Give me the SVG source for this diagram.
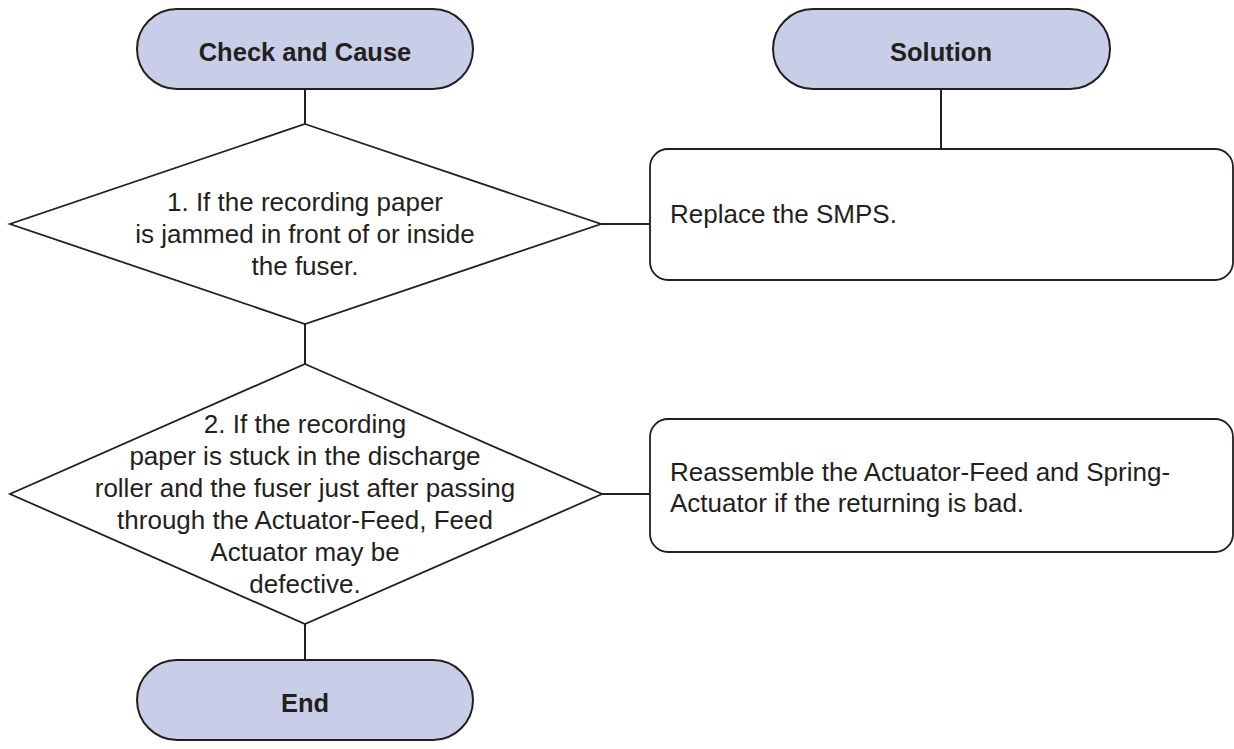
<svg xmlns="http://www.w3.org/2000/svg" width="1234" height="749" viewBox="0 0 1234 749">
<style>
.term{fill:#c9cee8;stroke:#231f20;stroke-width:2}
.shape{fill:#ffffff;stroke:#231f20;stroke-width:1.8}
.conn{stroke:#231f20;stroke-width:2;fill:none}
.t{font-family:"Liberation Sans",Arial,sans-serif;font-size:26px;fill:#231f20}
.tb{font-family:"Liberation Sans",Arial,sans-serif;font-size:25.5px;font-weight:bold;fill:#231f20}
.c{text-anchor:middle}
</style>
<rect width="1234" height="749" fill="#ffffff"/>
<g id="connectors">
<line class="conn" x1="305" y1="89" x2="305" y2="124"/>
<line class="conn" x1="941" y1="89" x2="941" y2="149"/>
<line class="conn" x1="601" y1="224" x2="650" y2="224"/>
<line class="conn" x1="305" y1="324" x2="305" y2="364"/>
<line class="conn" x1="602" y1="494" x2="650" y2="494"/>
<line class="conn" x1="305" y1="624" x2="305" y2="660"/>
</g>
<g id="check-and-cause">
<rect class="term" x="137" y="9" width="336" height="80" rx="40" ry="40"/>
<text class="tb c" x="305" y="61">Check and Cause</text>
</g>
<g id="solution">
<rect class="term" x="773" y="9" width="337" height="80" rx="40" ry="40"/>
<text class="tb c" x="941" y="61">Solution</text>
</g>
<g id="decision-1">
<polygon class="shape" points="305,124 601,224 305,324 10,224"/>
<text class="t c" x="305" y="211">1. If the recording paper</text>
<text class="t c" x="305" y="243">is jammed in front of or inside</text>
<text class="t c" x="305" y="275">the fuser.</text>
</g>
<g id="solution-1">
<rect class="shape" x="650" y="149" width="583" height="131" rx="18" ry="18"/>
<text class="t" x="670" y="223">Replace the SMPS.</text>
</g>
<g id="decision-2">
<polygon class="shape" points="305,364 602,494 305,624 10,494"/>
<text class="t c" x="305" y="433">2. If the recording</text>
<text class="t c" x="305" y="465">paper is stuck in the discharge</text>
<text class="t c" x="305" y="497">roller and the fuser just after passing</text>
<text class="t c" x="305" y="529">through the Actuator-Feed, Feed</text>
<text class="t c" x="305" y="561">Actuator may be</text>
<text class="t c" x="305" y="593">defective.</text>
</g>
<g id="solution-2">
<rect class="shape" x="650" y="419" width="583" height="133" rx="18" ry="18"/>
<text class="t" x="670" y="481">Reassemble the Actuator-Feed and Spring-</text>
<text class="t" x="670" y="512">Actuator if the returning is bad.</text>
</g>
<g id="end">
<rect class="term" x="137" y="660" width="336" height="80" rx="40" ry="40"/>
<text class="tb c" x="305" y="712">End</text>
</g>
</svg>
